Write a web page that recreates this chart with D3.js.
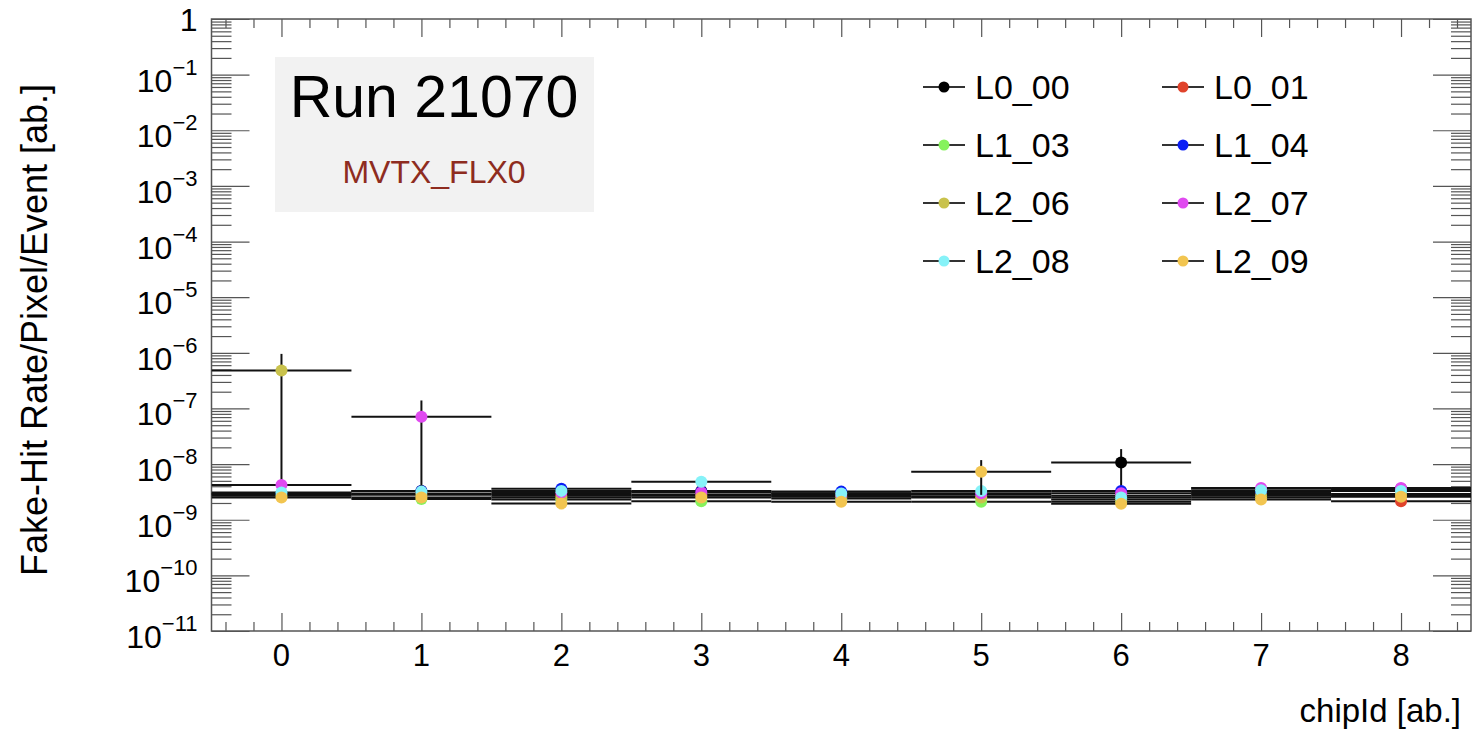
<!DOCTYPE html>
<html>
<head>
<meta charset="utf-8">
<script src="https://cdn.jsdelivr.net/npm/d3@7"></script>
<style>
  body { margin: 0; background: #fff; }
  text { font-family: "Liberation Sans", Arial, Helvetica, sans-serif; }
</style>
</head>
<body>
<div id="chart"></div>
<script>
// chip ids on the x axis
var chipIds = [0, 1, 2, 3, 4, 5, 6, 7, 8];

// stave names, legend order
var staveNames = ["L0_00", "L0_01", "L1_03", "L1_04", "L2_06", "L2_07", "L2_08", "L2_09"];
var staveColors = ["#000000", "#e0432b", "#86f25c", "#0a1ef5", "#c9c24c", "#e04af0", "#86f2f8", "#f2c550"];

// fake-hit rate per chip
var rateL0_00 = [2.9e-9, 3.3e-9, 2.9e-9, 3.3e-9, 3.0e-9, 2.8e-9, 1.07e-8, 3.2e-9, 3.6e-9];
var rateL0_01 = [2.8e-9, 2.9e-9, 2.7e-9, 2.8e-9, 2.7e-9, 2.6e-9, 2.7e-9, 2.9e-9, 2.15e-9];
var rateL1_03 = [2.7e-9, 2.35e-9, 2.3e-9, 2.15e-9, 2.4e-9, 2.1e-9, 2.1e-9, 2.5e-9, 2.7e-9];
var rateL1_04 = [3.0e-9, 3.3e-9, 3.6e-9, 3.2e-9, 3.2e-9, 2.9e-9, 3.3e-9, 3.1e-9, 3.5e-9];
var rateL2_06 = [4.8e-7, 2.8e-9, 2.5e-9, 2.7e-9, 2.6e-9, 2.5e-9, 2.3e-9, 2.7e-9, 2.9e-9];
var rateL2_07 = [4.2e-9, 7.1e-8, 3.1e-9, 3.1e-9, 2.8e-9, 3.0e-9, 3.0e-9, 3.7e-9, 3.7e-9];
var rateL2_08 = [3.1e-9, 3.2e-9, 3.3e-9, 4.8e-9, 2.95e-9, 3.3e-9, 2.5e-9, 3.4e-9, 3.3e-9];
var rateL2_09 = [2.5e-9, 2.5e-9, 1.95e-9, 2.5e-9, 2.1e-9, 7.3e-9, 1.93e-9, 2.3e-9, 2.6e-9];

// vertical errors
var errL0_00 = [2e-10, 2e-10, 2e-10, 2e-10, 2e-10, 2e-10, 7.9e-9, 2e-10, 2e-10];
var errL0_01 = [2e-10, 2e-10, 2e-10, 2e-10, 2e-10, 2e-10, 2e-10, 2e-10, 2e-10];
var errL1_03 = [2e-10, 2e-10, 2e-10, 2e-10, 2e-10, 2e-10, 2e-10, 2e-10, 2e-10];
var errL1_04 = [2e-10, 2e-10, 2e-10, 2e-10, 2e-10, 2e-10, 2e-10, 2e-10, 2e-10];
var errL2_06 = [4.765e-7, 2e-10, 2e-10, 2e-10, 2e-10, 2e-10, 2e-10, 2e-10, 2e-10];
var errL2_07 = [2e-10, 6.82e-8, 2e-10, 2e-10, 2e-10, 2e-10, 2e-10, 2e-10, 2e-10];
var errL2_08 = [2e-10, 2e-10, 2e-10, 2e-10, 2e-10, 2e-10, 2e-10, 2e-10, 2e-10];
var errL2_09 = [2e-10, 2e-10, 2e-10, 2e-10, 2e-10, 4.5e-9, 2e-10, 2e-10, 2e-10];

var yDecades = [-11, -10, -9, -8, -7, -6, -5, -4, -3, -2, -1, 0];
var xTitle = "chipId [ab.]";
var yTitle = "Fake-Hit Rate/Pixel/Event [ab.]";
var runLabel = "Run 21070";
var boardLabel = "MVTX_FLX0";

var rates = [rateL0_00, rateL0_01, rateL1_03, rateL1_04, rateL2_06, rateL2_07, rateL2_08, rateL2_09];
var errs = [errL0_00, errL0_01, errL1_03, errL1_04, errL2_06, errL2_07, errL2_08, errL2_09];

var svgWidth = 1472;
var svgHeight = 737;
var margin = { top: 19, right: 1, bottom: 106, left: 211.5 };
var width = svgWidth - margin.left - margin.right;
var height = svgHeight - margin.top - margin.bottom;

var svg = d3.select("#chart")
  .append("svg")
  .attr("width", svgWidth)
  .attr("height", svgHeight);
var chartGroup = svg.append("g")
  .attr("transform", `translate(${margin.left}, ${margin.top})`);

// scales
var xScale = d3.scaleLinear().domain([-0.5, 8.5]).range([0, width]);
var yScale = d3.scaleLog().domain([1e-11, 1]).range([height, 0]).clamp(true);

var axisColor = "#555";

// minor / major tick values
var xMinor = d3.range(-4, 86, 2).map(d => d / 10).filter(d => Math.abs(d - Math.round(d)) > 1e-6);
var yMajor = yDecades.map(d => Math.pow(10, d));
var yMinor = [];
yDecades.slice(0, -1).forEach(function(d) {
  for (var k = 2; k <= 9; k++) yMinor.push(k * Math.pow(10, d));
});

// frame
chartGroup.append("rect")
  .attr("width", width).attr("height", height)
  .attr("fill", "none").attr("stroke", axisColor).attr("stroke-width", 1.5);

// axes built with d3 axis generators, ticks drawn inward
function styleAxis(g) {
  g.select(".domain").remove();
  g.selectAll(".tick line").attr("stroke", axisColor).attr("stroke-width", 1.2);
  g.selectAll("text").remove();
}

// bottom + top
chartGroup.append("g").attr("transform", `translate(0, ${height})`)
  .call(d3.axisBottom(xScale).tickValues(chipIds).tickSize(-18)).call(styleAxis);
chartGroup.append("g").attr("transform", `translate(0, ${height})`)
  .call(d3.axisBottom(xScale).tickValues(xMinor).tickSize(-9)).call(styleAxis);
chartGroup.append("g")
  .call(d3.axisTop(xScale).tickValues(chipIds).tickSize(-18)).call(styleAxis);
chartGroup.append("g")
  .call(d3.axisTop(xScale).tickValues(xMinor).tickSize(-9)).call(styleAxis);

// left + right
chartGroup.append("g")
  .call(d3.axisLeft(yScale).tickValues(yMajor).tickSize(-38)).call(styleAxis);
chartGroup.append("g")
  .call(d3.axisLeft(yScale).tickValues(yMinor).tickSize(-20)).call(styleAxis);
chartGroup.append("g").attr("transform", `translate(${width}, 0)`)
  .call(d3.axisRight(yScale).tickValues(yMajor).tickSize(-38)).call(styleAxis);
chartGroup.append("g").attr("transform", `translate(${width}, 0)`)
  .call(d3.axisRight(yScale).tickValues(yMinor).tickSize(-20)).call(styleAxis);

// x tick labels
chartGroup.selectAll(".xlab")
  .data(chipIds)
  .enter()
  .append("text")
  .attr("x", d => xScale(d))
  .attr("y", height + 35)
  .attr("text-anchor", "middle")
  .attr("font-size", 31)
  .text(d => d);

// y tick labels: 1, 10^-1 ... 10^-11
yDecades.forEach(function(d) {
  var yy = yScale(Math.pow(10, d));
  if (d === 0) {
    chartGroup.append("text")
      .attr("x", -14).attr("y", yy + 12)
      .attr("text-anchor", "end").attr("font-size", 32)
      .text("1");
  } else {
    var t = chartGroup.append("text")
      .attr("x", -14).attr("y", yy + 17)
      .attr("text-anchor", "end").attr("font-size", 32);
    t.append("tspan").text("10");
    t.append("tspan").attr("dy", -17).attr("font-size", 22).text("\u2212" + (-d));
  }
});

// axis titles
svg.append("text")
  .attr("x", 1461).attr("y", 722)
  .attr("text-anchor", "end").attr("font-size", 33)
  .text(xTitle);
svg.append("text")
  .attr("transform", "translate(47, 330) rotate(-90)")
  .attr("text-anchor", "middle").attr("font-size", 36)
  .text(yTitle);

// run label box
svg.append("rect")
  .attr("x", 275).attr("y", 57).attr("width", 319).attr("height", 155)
  .attr("fill", "#f2f2f2");
svg.append("text")
  .attr("x", 434).attr("y", 117)
  .attr("text-anchor", "middle").attr("font-size", 59)
  .text(runLabel);
svg.append("text")
  .attr("x", 434).attr("y", 183)
  .attr("text-anchor", "middle").attr("font-size", 32)
  .attr("fill", "#8e2c20")
  .text(boardLabel);

// data points with error bars
var clip = svg.append("clipPath").attr("id", "plotClip")
  .append("rect").attr("width", width).attr("height", height);
var dataGroup = chartGroup.append("g").attr("clip-path", "url(#plotClip)");

staveNames.forEach(function(name, s) {
  var pts = chipIds.map(function(c, i) {
    return { x: c, y: rates[s][i], e: errs[s][i] };
  });
  var g = dataGroup.append("g").attr("class", "series-" + name);

  g.selectAll(".hbar")
    .data(pts).enter().append("line")
    .attr("x1", d => xScale(d.x - 0.5))
    .attr("x2", d => xScale(d.x + 0.5))
    .attr("y1", d => yScale(d.y))
    .attr("y2", d => yScale(d.y))
    .attr("stroke", "#111").attr("stroke-width", 2);

  g.selectAll(".vbar")
    .data(pts).enter().append("line")
    .attr("x1", d => xScale(d.x))
    .attr("x2", d => xScale(d.x))
    .attr("y1", d => yScale(Math.max(d.y - d.e, 1e-12)))
    .attr("y2", d => yScale(d.y + d.e))
    .attr("stroke", "#111").attr("stroke-width", 2);

  g.selectAll("circle")
    .data(pts).enter().append("circle")
    .attr("cx", d => xScale(d.x))
    .attr("cy", d => yScale(d.y))
    .attr("r", 6)
    .attr("fill", staveColors[s]);
});

// legend, two columns
var legend = svg.append("g");
staveNames.forEach(function(name, s) {
  var col = s % 2;
  var row = Math.floor(s / 2);
  var cx = col === 0 ? 944 : 1183;
  var cy = 87 + row * 58;
  legend.append("line")
    .attr("x1", cx - 21).attr("x2", cx + 21)
    .attr("y1", cy).attr("y2", cy)
    .attr("stroke", "#333").attr("stroke-width", 2);
  legend.append("circle")
    .attr("cx", cx).attr("cy", cy).attr("r", 5.5)
    .attr("fill", staveColors[s]);
  legend.append("text")
    .attr("x", cx + 31).attr("y", cy + 12)
    .attr("font-size", 34)
    .text(name);
});
</script>
</body>
</html>
